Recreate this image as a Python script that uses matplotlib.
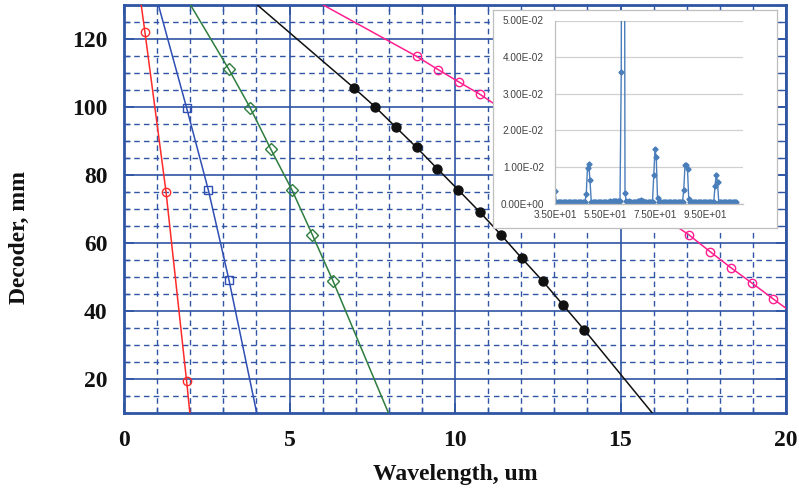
import numpy as np
import matplotlib
matplotlib.use("Agg")
import matplotlib.pyplot as plt
from matplotlib.ticker import MultipleLocator, FuncFormatter

# ---------------- data (main chart) ----------------
red_x = [0.63, 1.27, 1.89]
red_y = [122.2, 75.0, 19.5]
red_ends = [(0.52, 130.0), (1.99, 10.0)]

blue_x = [1.89, 2.55, 3.17]
blue_y = [99.8, 75.5, 49.2]
blue_ends = [(1.04, 130.0), (4.01, 10.0)]

green_x = [3.16, 3.81, 4.43, 5.07, 5.69, 6.32]
green_y = [111.2, 99.8, 87.7, 75.7, 62.4, 48.7]
green_ends = [(2.01, 130.0), (7.99, 10.0)]

black_x = [6.96, 7.58, 8.22, 8.84, 9.46, 10.09, 10.76, 11.39, 12.02, 12.65, 13.27, 13.91]
black_y = [105.5, 100.1, 94.0, 88.1, 81.9, 75.7, 69.0, 62.4, 55.5, 48.8, 41.7, 34.4]
black_ends = [(4.03, 130.0), (15.96, 10.0)]

pink_x = [8.84, 9.49, 10.11, 10.76, 17.06, 17.70, 18.34, 18.96, 19.62]
pink_y = [114.9, 111.0, 107.4, 103.7, 62.45, 57.5, 52.7, 48.3, 43.5]
pink_ends = [(6.02, 130.0), (20.0, 40.8)]

x_ticks = [0, 5, 10, 15, 20]
y_ticks = [20, 40, 60, 80, 100, 120]

# ---------------- data (inset) ----------------
inset_start = 35.0
inset_step = 0.5
inset_y = [
    0.0034, 0.0004, 0.0003, 0.0004, 0.0004, 0.0003, 0.0004, 0.0005, 0.0004, 0.0003,
    0.0004, 0.0004, 0.0003, 0.0004, 0.0005, 0.0004, 0.0003, 0.0004, 0.0004, 0.0003,
    0.0004, 0.0004, 0.0003, 0.0004, 0.0005, 0.0025, 0.0098, 0.0107, 0.0063, 0.0005,
    0.0004, 0.0003, 0.0004, 0.0004, 0.0003, 0.0004, 0.0005, 0.0004, 0.0003, 0.0004,
    0.0004, 0.0005, 0.0004, 0.0005, 0.0006, 0.0005, 0.0006, 0.0007, 0.0006, 0.0007,
    0.0008, 0.0007, 0.0008, 0.0360, 0.2000, 0.2000, 0.0030, 0.0006, 0.0005, 0.0006,
    0.0005, 0.0004, 0.0005, 0.0004, 0.0004, 0.0005, 0.0006, 0.0007, 0.0008, 0.0009,
    0.0006, 0.0005, 0.0004, 0.0005, 0.0004, 0.0004, 0.0005, 0.0004, 0.0005, 0.0077,
    0.0148, 0.0127, 0.0015, 0.0005, 0.0004, 0.0004, 0.0005, 0.0004, 0.0003, 0.0004,
    0.0005, 0.0004, 0.0004, 0.0005, 0.0004, 0.0003, 0.0004, 0.0004, 0.0005, 0.0004,
    0.0004, 0.0005, 0.0004, 0.0037, 0.0105, 0.0104, 0.0093, 0.0013, 0.0005, 0.0004,
    0.0004, 0.0005, 0.0004, 0.0003, 0.0004, 0.0004, 0.0005, 0.0004, 0.0004, 0.0003,
    0.0004, 0.0005, 0.0004, 0.0004, 0.0003, 0.0004, 0.0005, 0.0004, 0.0047, 0.0079,
    0.0058, 0.0005, 0.0004, 0.0004, 0.0003, 0.0004, 0.0005, 0.0004, 0.0004, 0.0003,
    0.0004, 0.0005, 0.0004, 0.0004, 0.0003, 0.0004]
inset_xticks = [35, 55, 75, 95]
inset_yticks = [0.0, 0.01, 0.02, 0.03, 0.04, 0.05]

# ---------------- figure ----------------
W, H = 799, 488
fig = plt.figure(figsize=(W / 100, H / 100), dpi=100)

def fx(px):
    return px / W

def fy(py):
    return 1 - py / H

gridc = "#2f55a4"
serif = "Liberation Serif"

ax = fig.add_axes([fx(124), fy(413), fx(786) - fx(124), fy(5) - fy(413)])
ax.set_xlim(0, 20)
ax.set_ylim(10, 130)
ax.xaxis.set_major_locator(MultipleLocator(5))
ax.xaxis.set_minor_locator(MultipleLocator(1))
ax.yaxis.set_major_locator(MultipleLocator(20))
ax.yaxis.set_minor_locator(MultipleLocator(5))
ax.set_xticks(x_ticks)
ax.set_yticks(y_ticks)
ax.set_axisbelow(True)
ax.grid(which="major", color=gridc, lw=1.2, ls="-")
ax.grid(which="minor", color=gridc, lw=1.0, ls=(0, (4, 3)))
for s in ax.spines.values():
    s.set_color(gridc)
    s.set_linewidth(2)
ax.tick_params(which="both", direction="in", top=True, right=True, color=gridc)
ax.tick_params(which="major", length=7, width=1.2, pad=12)
ax.tick_params(which="minor", length=4, width=1.0)
for lab in ax.get_xticklabels() + ax.get_yticklabels():
    lab.set_fontfamily(serif)
    lab.set_fontweight("bold")
    lab.set_fontsize(17)
    lab.set_color("#111111")


def draw(xs, ys, ends, color, marker, ms, filled=False):
    lx = [ends[0][0]] + list(xs) + [ends[1][0]]
    ly = [ends[0][1]] + list(ys) + [ends[1][1]]
    order = np.argsort(lx)
    ax.plot(np.array(lx)[order], np.array(ly)[order], color=color, lw=1.1, zorder=3)
    ax.plot(xs, ys, ls="none", marker=marker, ms=ms, mec=color,
            mfc=color if filled else "none", mew=1.0, zorder=4)


draw(red_x, red_y, red_ends, "#ff2a2a", "o", 6)
draw(blue_x, blue_y, blue_ends, "#2f4fb4", "s", 5.5)
draw(green_x, green_y, green_ends, "#2e7d3e", "D", 6.5)
draw(black_x, black_y, black_ends, "#111111", "o", 6.5, filled=True)
draw(pink_x, pink_y, pink_ends, "#ff1f8f", "o", 6)

fig.text(fx(455), fy(480), "Wavelength, um", ha="center", va="baseline",
         fontfamily=serif, fontweight="bold", fontsize=17, color="#111111")
fig.text(fx(19), fy(238), "Decoder, mm", ha="center", va="center", rotation=90,
         fontfamily=serif, fontweight="bold", fontsize=17, color="#111111")

# ---------------- inset ----------------
bg = fig.add_axes([fx(493), fy(228), fx(777) - fx(493), fy(10) - fy(228)])
bg.set_xticks([])
bg.set_yticks([])
bg.set_facecolor("white")
for s in bg.spines.values():
    s.set_color("#bfbfbf")
    s.set_linewidth(0.9)
bg.set_zorder(5)

ins = fig.add_axes([fx(555), fy(203.5), fx(743) - fx(555), fy(20.5) - fy(203.5)])
ins.set_zorder(6)
ins.patch.set_alpha(0)
inset_x = inset_start + inset_step * np.arange(len(inset_y))
ins.plot(inset_x, inset_y, color="#4a7ebb", lw=1.0, marker="D", ms=2.6,
         mec="#4a7ebb", mfc="#4a7ebb")
ins.set_xlim(35, 110.2)
ins.set_ylim(0, 0.05)
ins.set_xticks(inset_xticks)
ins.set_yticks(inset_yticks)
fmt = FuncFormatter(lambda v, p: "{:.2E}".format(v))
ins.xaxis.set_major_formatter(fmt)
ins.yaxis.set_major_formatter(fmt)
ins.grid(axis="y", color="#d0d0d0", lw=0.9)
ins.set_axisbelow(True)
for k in ["top", "right"]:
    ins.spines[k].set_visible(False)
for k in ["left", "bottom"]:
    ins.spines[k].set_color("#bfbfbf")
    ins.spines[k].set_linewidth(0.9)
ins.tick_params(length=0, labelsize=7.2, labelcolor="#404040")
ins.tick_params(axis="y", pad=8)
ins.tick_params(axis="x", pad=5)
for lab in ins.get_xticklabels() + ins.get_yticklabels():
    lab.set_fontfamily("Liberation Sans")

fig.savefig("out.png", dpi=100)
